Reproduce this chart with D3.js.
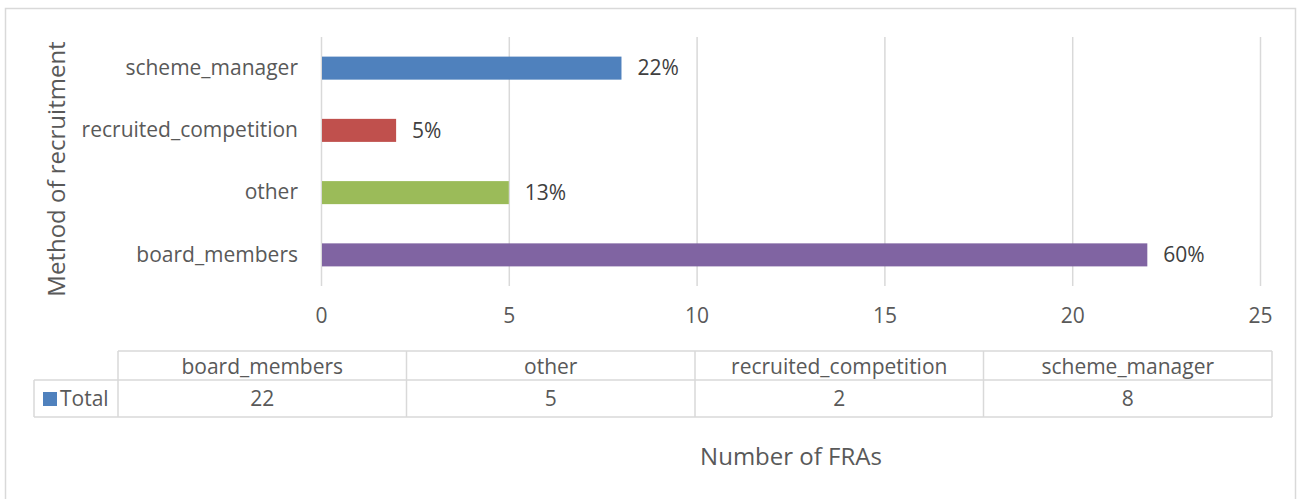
<!DOCTYPE html>
<html>
<head>
<meta charset="utf-8">
<script src="https://cdn.jsdelivr.net/npm/d3@7"></script>
<style>
  body { margin: 0; background: #fff; }
  svg text { font-family: "Open Sans", sans-serif; fill: #595959; }
</style>
</head>
<body>
<svg width="1300" height="499"></svg>
<script>
// bar order top -> bottom
const categories = ['scheme_manager', 'recruited_competition', 'other', 'board_members'];
const values = [8, 2, 5, 22];
const shareLabels = ['22%', '5%', '13%', '60%'];
const barColors = ['#4f81bd', '#c0504d', '#9bbb59', '#8064a2'];
const xTicks = [0, 5, 10, 15, 20, 25];

// data table below the axis
const tableCategories = ['board_members', 'other', 'recruited_competition', 'scheme_manager'];
const tableValues = [22, 5, 2, 8];
const seriesName = 'Total';

const svg = d3.select('svg');
const grey = '#d9d9d9';
const fs = 21;

// outer frame
svg.append('rect')
  .attr('x', 5.5).attr('y', 8.5)
  .attr('width', 1290).attr('height', 500)
  .attr('fill', 'none').attr('stroke', grey).attr('stroke-width', 1.5);

const xScale = d3.scaleLinear().domain([0, 25]).range([321, 1260]);
const yScale = d3.scaleBand().domain(categories).range([37, 286]).paddingInner(0.63).paddingOuter(0.315);

const xAxis = d3.axisBottom(xScale).tickValues(xTicks).tickSize(-(286 - 37)).tickPadding(30);
const xAxisG = svg.append('g').attr('transform', 'translate(0,286)').call(xAxis);
xAxisG.select('.domain').remove();
xAxisG.selectAll('line').attr('stroke', grey).attr('stroke-width', 1.5);
xAxisG.selectAll('text').attr('font-size', fs).attr('dy', '0.35em');

const yAxis = d3.axisLeft(yScale).tickSize(0).tickPadding(23);
const yAxisG = svg.append('g').attr('transform', 'translate(321,0)').call(yAxis);
yAxisG.select('.domain').remove();
yAxisG.selectAll('text').attr('font-size', fs);

svg.selectAll('.bar').data(categories)
  .enter().append('rect')
    .attr('class', 'bar')
    .attr('x', xScale(0) + 1)
    .attr('y', d => yScale(d))
    .attr('height', yScale.bandwidth())
    .attr('width', (d, i) => xScale(values[i]) - xScale(0) - 1)
    .attr('fill', (d, i) => barColors[i]);

svg.selectAll('.share').data(categories)
  .enter().append('text')
    .attr('class', 'share')
    .attr('x', (d, i) => xScale(values[i]) + 16)
    .attr('y', d => yScale(d) + yScale.bandwidth() / 2)
    .attr('dy', '0.35em')
    .attr('font-size', fs)
    .style('fill', '#404040')
    .text((d, i) => shareLabels[i]);

// axis titles
svg.append('text')
  .attr('transform', 'translate(57,169) rotate(-90)')
  .attr('dy', '0.35em')
  .attr('text-anchor', 'middle')
  .attr('font-size', 24)
  .text('Method of recruitment');

svg.append('text')
  .attr('x', 791).attr('y', 457)
  .attr('dy', '0.35em')
  .attr('text-anchor', 'middle')
  .attr('font-size', 24)
  .text('Number of FRAs');

// data table
const colScale = d3.scaleBand().domain(tableCategories).range([118, 1272]);
const headTop = 351, rowTop = 380, rowBottom = 417, labelLeft = 34;
const tbl = svg.append('g').attr('stroke', grey).attr('stroke-width', 1.5);

tbl.append('line').attr('x1', 118).attr('x2', 1272).attr('y1', headTop).attr('y2', headTop);
tbl.append('line').attr('x1', labelLeft).attr('x2', 1272).attr('y1', rowTop).attr('y2', rowTop);
tbl.append('line').attr('x1', labelLeft).attr('x2', 1272).attr('y1', rowBottom).attr('y2', rowBottom);
tbl.append('line').attr('x1', labelLeft).attr('x2', labelLeft).attr('y1', rowTop).attr('y2', rowBottom);
tbl.selectAll('.vcol').data(tableCategories.concat(['end']))
  .enter().append('line')
    .attr('x1', d => d === 'end' ? 1272 : colScale(d))
    .attr('x2', d => d === 'end' ? 1272 : colScale(d))
    .attr('y1', headTop).attr('y2', rowBottom);

svg.selectAll('.thead').data(tableCategories)
  .enter().append('text')
    .attr('x', d => colScale(d) + colScale.bandwidth() / 2)
    .attr('y', (headTop + rowTop) / 2 + 1)
    .attr('dy', '0.35em')
    .attr('text-anchor', 'middle')
    .attr('font-size', fs)
    .text(d => d);

svg.selectAll('.tval').data(tableCategories)
  .enter().append('text')
    .attr('x', d => colScale(d) + colScale.bandwidth() / 2)
    .attr('y', (rowTop + rowBottom) / 2)
    .attr('dy', '0.35em')
    .attr('text-anchor', 'middle')
    .attr('font-size', fs)
    .text((d, i) => tableValues[i]);

svg.append('rect')
  .attr('x', 43).attr('y', 392)
  .attr('width', 14).attr('height', 14)
  .attr('fill', barColors[0]);
svg.append('text')
  .attr('x', 60).attr('y', (rowTop + rowBottom) / 2)
  .attr('dy', '0.35em')
  .attr('font-size', fs)
  .text(seriesName);
</script>
</body>
</html>
